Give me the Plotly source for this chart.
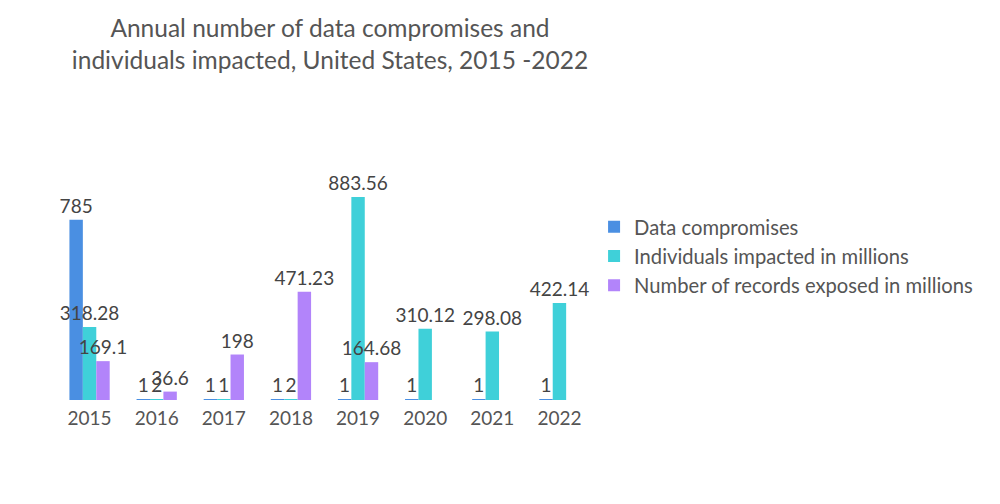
import plotly.graph_objects as go

years = ["2015", "2016", "2017", "2018", "2019", "2020", "2021", "2022"]
data_compromises = [785, 1, 1, 1, 1, 1, 1, 1]
individuals_impacted = [318.28, 2, 1, 2, 883.56, 310.12, 298.08, 422.14]
records_exposed = [169.1, 36.6, 198, 471.23, 164.68, None, None, None]

series = [
    ("Data compromises", data_compromises, "#4A8FE2"),
    ("Individuals impacted in millions", individuals_impacted, "#3FD0D9"),
    ("Number of records exposed in millions", records_exposed, "#B284FA"),
]

fig = go.Figure()
for name, vals, color in series:
    fig.add_trace(go.Bar(
        name=name, x=years, y=vals,
        marker=dict(color=color, line=dict(width=0)),
        text=[("" if v is None else f"{v:g}") for v in vals],
        textposition="outside",
        textfont=dict(size=19, color="#444444"),
        cliponaxis=False,
    ))

fig.update_layout(
    width=1000, height=504,
    barmode="group", bargap=0.4, bargroupgap=0,
    plot_bgcolor="white", paper_bgcolor="white",
    font=dict(family="Lato, sans-serif", color="#555555"),
    uniformtext=dict(minsize=19, mode="show"),
    title=dict(
        text="Annual number of data compromises and<br>individuals impacted, United States, 2015 -2022",
        x=0.322, xanchor="center", y=0.943, yanchor="top",
        font=dict(size=24.5, color="#555555"),
    ),
    margin=dict(l=48, r=415, t=137, b=112),
    xaxis=dict(showgrid=False, showline=False, ticks="", ticklabelstandoff=5,
               tickfont=dict(size=19, color="#555555")),
    yaxis=dict(visible=False, range=[0, 1110]),
    legend=dict(x=1.002, y=0.756, xanchor="left", yanchor="top",
                font=dict(size=20.2, color="#555555"), tracegroupgap=4),
    showlegend=True,
)

fig.write_html("out.html")
